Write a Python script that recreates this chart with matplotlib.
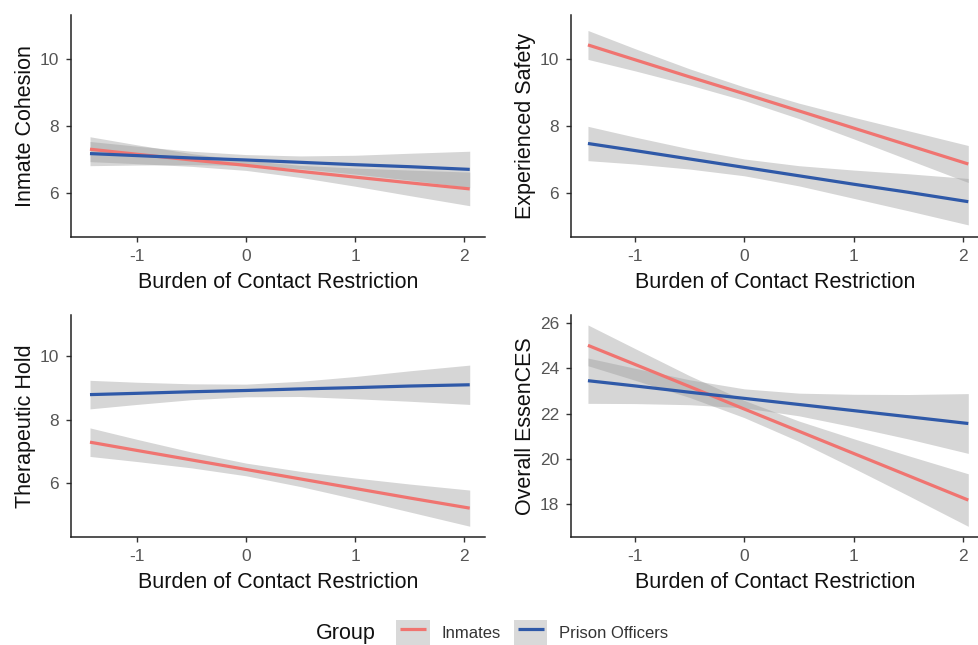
import matplotlib
matplotlib.use('Agg')
import matplotlib.pyplot as plt
from matplotlib.patches import Patch
from matplotlib.lines import Line2D
import numpy as np

plt.rcParams['font.family'] = ['Liberation Sans', 'DejaVu Sans']
plt.rcParams['axes.unicode_minus'] = False

RED = '#F07470'
BLUE = '#2F59A8'
BAND = '#999999'

# burden of contact restriction (standardised) at which fits were read
x = [-1.43, -1.0, -0.5, 0.0, 0.5, 1.0, 1.5, 2.05]

cohesion_inm = [7.31, 7.16, 6.99, 6.83, 6.65, 6.48, 6.31, 6.13]
cohesion_inm_lo = [6.94, 6.88, 6.80, 6.68, 6.47, 6.21, 5.93, 5.63]
cohesion_inm_hi = [7.68, 7.44, 7.18, 6.98, 6.83, 6.75, 6.69, 6.63]
cohesion_off = [7.18, 7.12, 7.05, 6.99, 6.92, 6.85, 6.79, 6.71]
cohesion_off_lo = [6.82, 6.84, 6.85, 6.83, 6.73, 6.57, 6.39, 6.17]
cohesion_off_hi = [7.54, 7.40, 7.25, 7.15, 7.11, 7.13, 7.19, 7.25]

safety_inm = [10.41, 9.97, 9.46, 8.96, 8.45, 7.94, 7.43, 6.87]
safety_inm_lo = [9.98, 9.64, 9.22, 8.76, 8.22, 7.62, 7.00, 6.32]
safety_inm_hi = [10.84, 10.30, 9.70, 9.16, 8.68, 8.26, 7.86, 7.42]
safety_off = [7.48, 7.27, 7.02, 6.77, 6.52, 6.27, 6.03, 5.75]
safety_off_lo = [6.97, 6.87, 6.72, 6.52, 6.22, 5.85, 5.48, 5.06]
safety_off_hi = [7.99, 7.67, 7.32, 7.02, 6.82, 6.69, 6.58, 6.44]

hold_inm = [7.29, 7.03, 6.73, 6.43, 6.13, 5.83, 5.53, 5.21]
hold_inm_lo = [6.84, 6.68, 6.48, 6.23, 5.89, 5.50, 5.09, 4.64]
hold_inm_hi = [7.74, 7.38, 6.98, 6.63, 6.37, 6.16, 5.97, 5.78]
hold_off = [8.79, 8.83, 8.88, 8.92, 8.97, 9.01, 9.06, 9.10]
hold_off_lo = [8.34, 8.48, 8.63, 8.72, 8.73, 8.66, 8.58, 8.48]
hold_off_hi = [9.24, 9.18, 9.13, 9.12, 9.21, 9.36, 9.54, 9.72]

overall_inm = [25.01, 24.17, 23.19, 22.20, 21.22, 20.24, 19.26, 18.18]
overall_inm_lo = [24.11, 23.47, 22.71, 21.82, 20.77, 19.59, 18.38, 17.02]
overall_inm_hi = [25.91, 24.87, 23.67, 22.58, 21.67, 20.89, 20.14, 19.34]
overall_off = [23.45, 23.22, 22.94, 22.67, 22.40, 22.13, 21.86, 21.56]
overall_off_lo = [22.45, 22.44, 22.39, 22.25, 21.90, 21.41, 20.88, 20.24]
overall_off_hi = [24.45, 24.00, 23.49, 23.09, 22.90, 22.85, 22.84, 22.88]

panels = [
    ('Inmate Cohesion', cohesion_inm, cohesion_inm_lo, cohesion_inm_hi,
     cohesion_off, cohesion_off_lo, cohesion_off_hi, (4.7, 11.3), [6, 8, 10]),
    ('Experienced Safety', safety_inm, safety_inm_lo, safety_inm_hi,
     safety_off, safety_off_lo, safety_off_hi, (4.7, 11.3), [6, 8, 10]),
    ('Therapeutic Hold', hold_inm, hold_inm_lo, hold_inm_hi,
     hold_off, hold_off_lo, hold_off_hi, (4.3, 11.3), [6, 8, 10]),
    ('Overall EssenCES', overall_inm, overall_inm_lo, overall_inm_hi,
     overall_off, overall_off_lo, overall_off_hi, (16.55, 26.35), [18, 20, 22, 24, 26]),
]

W, H = 979, 645
fig = plt.figure(figsize=(W / 100, H / 100), dpi=100)

# axes boxes in pixels: left, top, right, bottom
boxes = [(71, 15, 485, 237), (571, 15, 979, 237),
         (71, 315, 485, 537), (571, 315, 979, 537)]
xlims = [(-1.604, 2.19), (-1.585, 2.148), (-1.604, 2.19), (-1.585, 2.148)]

for (name, ri, rlo, rhi, bo, blo, bhi, ylim, yt), box, xl in zip(panels, boxes, xlims):
    l, t, r, b = box
    ax = fig.add_axes([l / W, 1 - b / H, (r - l) / W, (b - t) / H])
    ax.fill_between(x, rlo, rhi, color=BAND, alpha=0.4, lw=0)
    ax.fill_between(x, blo, bhi, color=BAND, alpha=0.4, lw=0)
    ax.plot(x, ri, color=RED, lw=2.3, solid_capstyle='butt')
    ax.plot(x, bo, color=BLUE, lw=2.3, solid_capstyle='butt')
    ax.set_xlim(*xl)
    ax.set_ylim(*ylim)
    ax.set_xticks([-1, 0, 1, 2])
    ax.set_yticks(yt)
    ax.spines['top'].set_visible(False)
    ax.spines['right'].set_visible(False)
    for s in ('left', 'bottom'):
        ax.spines[s].set_linewidth(1.1)
        ax.spines[s].set_color('#222222')
    ax.tick_params(colors='#333333', labelcolor='#555555', labelsize=12.5,
                   length=3.5, width=1.0, pad=5)
    ax.set_xlabel('Burden of Contact Restriction', fontsize=15.5, color='#111111', labelpad=6)
    ax.set_ylabel(name, fontsize=15.5, color='#111111', labelpad=3)

fig.text(316 / W, 1 - 633 / H, 'Group', fontsize=15.5, color='#111111', va='center', ha='left')
handles = [(Patch(facecolor='#d9d9d9', edgecolor='none'),
            Line2D([], [], color=RED, marker='_', markersize=19, markeredgewidth=2.3, ls='none')),
           (Patch(facecolor='#d9d9d9', edgecolor='none'),
            Line2D([], [], color=BLUE, marker='_', markersize=19, markeredgewidth=2.3, ls='none'))]
fig.legend(handles, ['Inmates', 'Prison Officers'], ncol=2, frameon=False,
           loc='center left', bbox_to_anchor=(388 / W, 1 - 633 / H),
           fontsize=12, handlelength=2.0, handleheight=2.1, handletextpad=0.7,
           columnspacing=0.8, labelcolor='#333333', borderpad=0, numpoints=1)

fig.savefig('out.png', dpi=100)
